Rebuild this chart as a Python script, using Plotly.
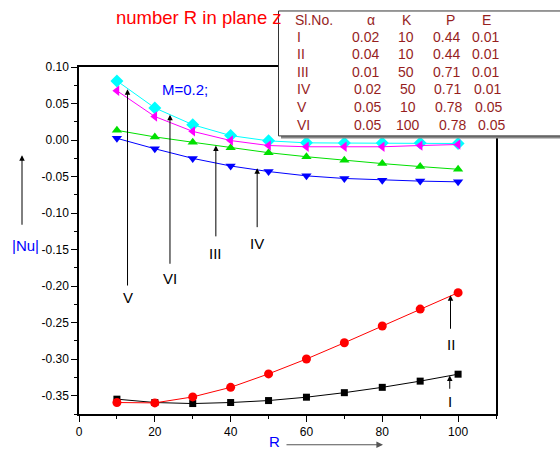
import plotly.graph_objects as go

# ---------------- data ----------------
R = [10, 20, 30, 40, 50, 60, 70, 80, 90, 100]

nu_I = [-0.3547, -0.3593, -0.3607, -0.3593, -0.3566, -0.3520, -0.3458, -0.3385, -0.3300, -0.3205]
nu_II = [-0.3593, -0.3598, -0.3516, -0.3385, -0.3201, -0.2997, -0.2775, -0.2545, -0.2314, -0.2089]
nu_III = [0.0133, 0.0043, -0.0030, -0.0106, -0.0173, -0.0228, -0.0278, -0.0322, -0.0363, -0.0400]
nu_IV = [0.0024, -0.0119, -0.0251, -0.0355, -0.0431, -0.0490, -0.0526, -0.0549, -0.0562, -0.0572]
nu_V = [0.0810, 0.0440, 0.0210, 0.0061, -0.0011, -0.0038, -0.0041, -0.0041, -0.0041, -0.0047]
nu_VI = [0.0675, 0.0322, 0.0119, -0.0007, -0.0075, -0.0092, -0.0092, -0.0092, -0.0075, -0.0061]

x_ticks = [0, 20, 40, 60, 80, 100]
y_ticks = [0.10, 0.05, 0.00, -0.05, -0.10, -0.15, -0.20, -0.25, -0.30, -0.35]
y_tick_text = ["0.10", "0.05", "0.00", "-0.05", "-0.10", "-0.15", "-0.20", "-0.25", "-0.30", "-0.35"]

table_header = ["Sl.No.", "\u03b1", "K", "P", "E"]
table_rows = [
    ["I", "0.02", "10", "0.44", "0.01"],
    ["II", "0.04", "10", "0.44", "0.01"],
    ["III", "0.01", "50", "0.71", "0.01"],
    ["IV", "0.02", "50", "0.71", "0.01"],
    ["V", "0.05", "10", "0.78", "0.05"],
    ["VI", "0.05", "100", "0.78", "0.05"],
]

# arrow label annotations: (label, x, head_y, tail_y, label_y)
curve_labels = [
    ("V", 12.8, 0.0694, -0.2012, -0.216),
    ("VI", 24.0, 0.0345, -0.1714, -0.189),
    ("III", 36.1, -0.0075, -0.1339, -0.155),
    ("IV", 47.0, -0.0386, -0.1213, -0.1416),
    ("II", 98.0, -0.2125, -0.2604, -0.2794),
    ("I", 97.8, -0.3222, -0.3425, -0.3574),
]

# ---------------- layout geometry ----------------
W_PX, H_PX = 560, 451
L, Rt, T, B = 79, 496, 67, 417
PW, PH = Rt - L, B - T


def pxx(px):
    return (px - L) / PW


def pxy(py):
    return (B - py) / PH


FONT = "Arial, Liberation Sans, sans-serif"
TABLE_COLOR = "#961e1e"

fig = go.Figure()

series = [
    (nu_I, "black", "square", 7),
    (nu_II, "red", "circle", 9),
    (nu_III, "#00e000", "triangle-up", 9),
    (nu_IV, "blue", "triangle-down", 9),
    (nu_V, "cyan", "diamond", 10),
    (nu_VI, "magenta", "triangle-left", 9),
]
for ys, col, sym, sz in series:
    fig.add_trace(go.Scatter(
        x=R, y=ys, mode="lines+markers",
        line=dict(color=col, width=1),
        marker=dict(color=col, symbol=sym, size=sz, line=dict(width=0)),
        showlegend=False, cliponaxis=False,
    ))

ann = []

# title (its end is hidden behind the table box in the reference)
ann.append(dict(xref="paper", yref="paper", x=pxx(114), y=pxy(17), xanchor="left", yanchor="middle",
                text="number R in plane z", showarrow=False,
                font=dict(family=FONT, size=18.5, color="red")))

# table box: shadow + white box (shapes)
shapes = [
    dict(type="rect", xref="paper", yref="paper", x0=pxx(281), x1=pxx(620), y0=pxy(139), y1=pxy(12.5),
         fillcolor="#888888", line=dict(width=0), layer="above"),
    dict(type="rect", xref="paper", yref="paper", x0=pxx(278.5), x1=pxx(620), y0=pxy(136.5), y1=pxy(10.5),
         fillcolor="white", line=dict(color="#333333", width=1), layer="above"),
]

# table text
header_x = [293, 370.7, 406.7, 450, 486.7]
header_anchor = ["left", "center", "center", "center", "center"]
row_y = [36.7, 54, 71.7, 89.3, 107.3, 125]
row_x = [
    [295, 365.7, 406.2, 446.7, 485.3],
    [295, 365.7, 406.2, 446.7, 485.3],
    [295, 365.7, 406.2, 446.7, 485.3],
    [295, 367.3, 408, 447.7, 487],
    [295, 367.3, 408, 448.3, 488],
    [295, 367.3, 407.8, 452.7, 491.7],
]
for j, h in enumerate(table_header):
    ann.append(dict(xref="paper", yref="paper", x=pxx(header_x[j]), y=pxy(20), xanchor=header_anchor[j],
                    yanchor="middle", text=h, showarrow=False,
                    font=dict(family=FONT, size=14, color=TABLE_COLOR)))
for i, row in enumerate(table_rows):
    for j, cell in enumerate(row):
        ann.append(dict(xref="paper", yref="paper", x=pxx(row_x[i][j]), y=pxy(row_y[i]),
                        xanchor=header_anchor[j], yanchor="middle", text=cell, showarrow=False,
                        font=dict(family=FONT, size=14, color=TABLE_COLOR)))

# curve arrows + labels
for lab, xv, hy, ty, ly in curve_labels:
    ann.append(dict(xref="x", yref="y", axref="x", ayref="y", x=xv, y=hy, ax=xv, ay=ty,
                    text="", showarrow=True, arrowhead=2, arrowsize=1.1, arrowwidth=1,
                    arrowcolor="black", standoff=0, startstandoff=0))
    ann.append(dict(xref="x", yref="y", x=xv, y=ly, text=lab, showarrow=False,
                    xanchor="center", yanchor="middle",
                    font=dict(family=FONT, size=15, color="black")))

# M=0.2;
ann.append(dict(xref="paper", yref="paper", x=pxx(160), y=pxy(90), xanchor="left", yanchor="middle",
                text="M=0.2;", showarrow=False, font=dict(family=FONT, size=15, color="blue")))

# y axis title with arrow
ann.append(dict(xref="paper", yref="paper", x=pxx(25), y=pxy(247), xanchor="center", yanchor="middle",
                text="|Nu|", showarrow=False, font=dict(family=FONT, size=15, color="blue")))
ann.append(dict(xref="paper", yref="paper", x=pxx(22), y=pxy(156), ax=0, ay=71,
                text="", showarrow=True, arrowhead=2, arrowsize=1.1, arrowwidth=1,
                arrowcolor="black", standoff=0, startstandoff=0))

# x axis title with arrow
ann.append(dict(xref="paper", yref="paper", x=pxx(274), y=pxy(445), xanchor="center", yanchor="middle",
                text="R", showarrow=False, font=dict(family=FONT, size=15, color="blue")))
ann.append(dict(xref="paper", yref="paper", x=pxx(383), y=pxy(448), ax=-98, ay=0,
                text="", showarrow=True, arrowhead=2, arrowsize=1.1, arrowwidth=1.2,
                arrowcolor="#555555", standoff=0, startstandoff=0))

fig.update_layout(
    width=W_PX, height=H_PX,
    margin=dict(l=L, r=W_PX - Rt, t=T, b=H_PX - B, pad=0),
    paper_bgcolor="white", plot_bgcolor="white",
    font=dict(family=FONT, size=12, color="black"),
    annotations=ann, shapes=shapes,
    xaxis=dict(range=[0, 110], tickvals=x_ticks, ticks="outside", ticklen=6, tickwidth=1,
               tickcolor="black", showline=True, linecolor="black", linewidth=1.5, mirror=True,
               showgrid=False, zeroline=False, tickfont=dict(size=12, family=FONT),
               minor=dict(dtick=10, tick0=0, ticks="outside", ticklen=3, tickcolor="black", showgrid=False)),
    yaxis=dict(range=[-0.375, 0.10], tickvals=y_ticks, ticktext=y_tick_text, ticks="outside",
               ticklen=6, tickwidth=1, tickcolor="black", showline=True, linecolor="black",
               linewidth=1.5, mirror=True, showgrid=False, zeroline=False,
               tickfont=dict(size=12, family=FONT), ticklabelstandoff=0,
               minor=dict(dtick=0.025, tick0=0, ticks="outside", ticklen=3, tickcolor="black",
                          showgrid=False)),
)

fig.write_html("out.html")
